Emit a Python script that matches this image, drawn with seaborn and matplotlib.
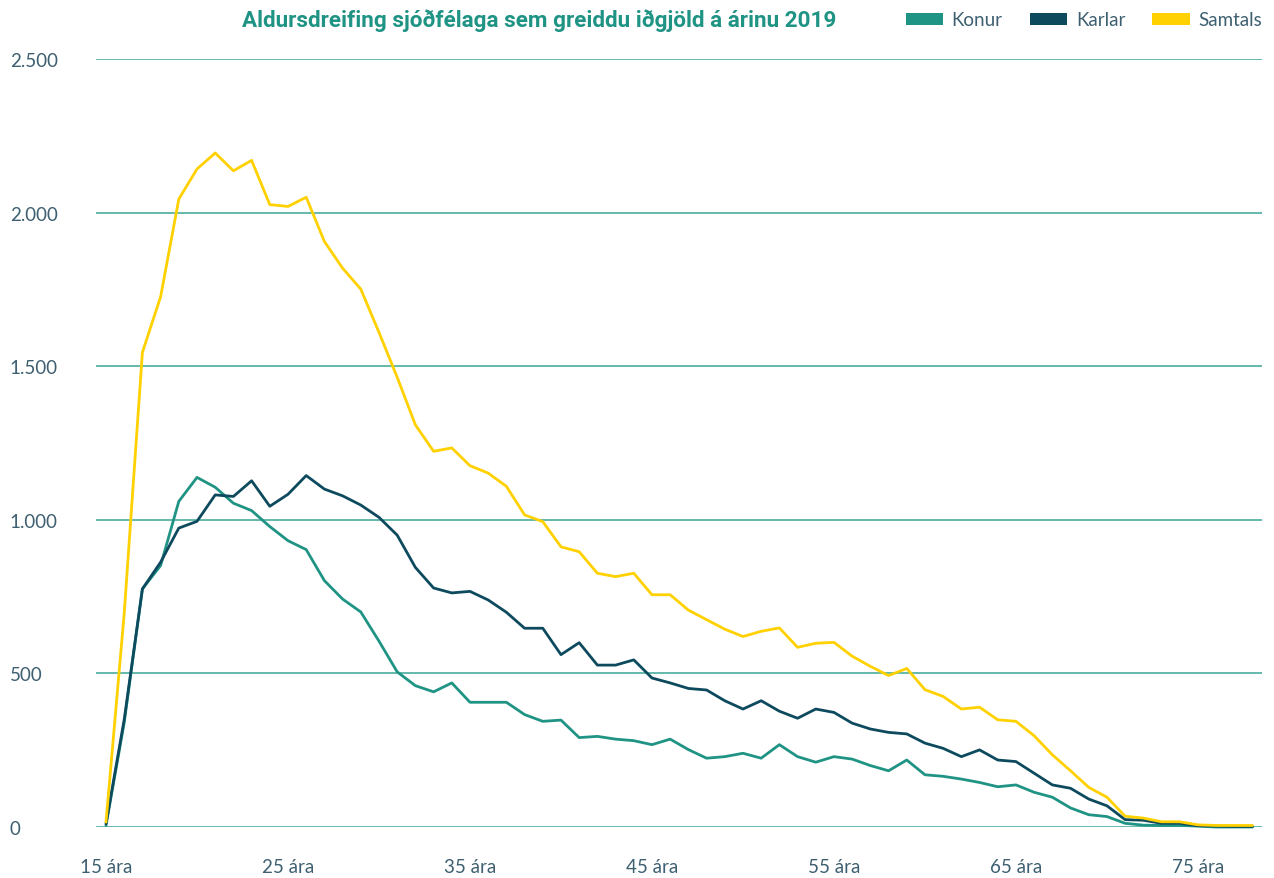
import matplotlib
matplotlib.use("Agg")
import matplotlib.pyplot as plt
import matplotlib.ticker as mticker
from matplotlib.patches import Patch
import seaborn as sns
import pandas as pd

ages = list(range(15, 79))

konur = [5, 340, 775, 851, 1060, 1138, 1106, 1054, 1030, 978,
         932, 903, 802, 742, 700, 605, 505, 460, 440, 469,
         406, 406, 406, 366, 344, 348, 291, 295, 286, 281,
         268, 286, 252, 224, 229, 240, 224, 268, 229, 211,
         229, 221, 200, 183, 218, 170, 165, 156, 145, 131,
         137, 113, 97, 62, 40, 34, 12, 6, 5, 5,
         3, 0, 0, 0]

karlar = [10, 350, 775, 862, 973, 995, 1081, 1076, 1127, 1044,
          1083, 1144, 1100, 1078, 1048, 1008, 950, 845, 778, 762,
          767, 739, 699, 647, 647, 561, 600, 527, 527, 544,
          485, 469, 451, 446, 411, 384, 411, 377, 354, 384,
          373, 338, 319, 308, 303, 273, 256, 229, 251, 218,
          213, 175, 137, 126, 91, 69, 24, 22, 12, 12,
          4, 3, 2, 2]

samtals = [16, 695, 1545, 1726, 2044, 2142, 2194, 2136, 2170, 2026,
           2020, 2050, 1906, 1819, 1751, 1610, 1464, 1309, 1223, 1234,
           1176, 1152, 1109, 1016, 994, 912, 896, 826, 815, 826,
           756, 756, 706, 675, 644, 620, 637, 648, 585, 598,
           601, 556, 523, 493, 516, 447, 425, 384, 390, 349,
           344, 297, 235, 183, 129, 97, 35, 29, 17, 17,
           7, 5, 5, 5]

series_names = ["Konur", "Karlar", "Samtals"]
colors = ["#1f9384", "#0d4a5e", "#ffd100"]
title = "Aldursdreifing sjóðfélaga sem greiddu iðgjöld á árinu 2019"
xticks = [15, 25, 35, 45, 55, 65, 75]
yticks = [0, 500, 1000, 1500, 2000, 2500]

df = pd.DataFrame({
    "age": ages * 3,
    "value": konur + karlar + samtals,
    "series": [series_names[0]] * len(ages) + [series_names[1]] * len(ages) + [series_names[2]] * len(ages),
})

sns.set_theme(style="white")
plt.rcParams["font.family"] = ["Lato", "DejaVu Sans"]

fig = plt.figure(figsize=(12.74, 8.79), dpi=100)
ax = fig.add_axes([96 / 1274, 1 - 828 / 879, (1262 - 96) / 1274, (828 - 60) / 879])

sns.lineplot(data=df, x="age", y="value", hue="series", hue_order=series_names,
             palette=colors, linewidth=2.0, ax=ax, legend=False, clip_on=False)

ax.set_xlim(14.45, 78.52)
ax.set_ylim(0, 2500)
ax.set_xticks(xticks)
ax.set_xticklabels([f"{t} ára" for t in xticks])
ax.set_yticks(yticks)
ax.yaxis.set_major_formatter(mticker.FuncFormatter(lambda v, p: f"{int(v):,}".replace(",", ".")))
ax.set_xlabel("")
ax.set_ylabel("")

for s in ax.spines.values():
    s.set_visible(False)
ax.grid(axis="y", color="#3aa597", linewidth=1.1)
ax.grid(axis="x", visible=False)
ax.set_axisbelow(True)

tick_color = "#3d5f70"
ax.tick_params(axis="y", length=0, pad=62, labelsize=13.5, labelcolor=tick_color)
ax.tick_params(axis="x", length=0, pad=22, labelsize=13.5, labelcolor=tick_color)
for lbl in ax.get_yticklabels():
    lbl.set_horizontalalignment("left")

fig.text(539 / 1274, 1 - 21 / 879, title, ha="center", va="center",
         fontsize=16.2, fontweight="bold", color="#1f9384", family=["Roboto", "DejaVu Sans"])

handles = [Patch(facecolor=c, edgecolor="none") for c in colors]
fig.legend(handles, series_names, loc="center right", bbox_to_anchor=(1262 / 1274, 1 - 21 / 879),
           ncol=3, frameon=False, fontsize=13.5, handlelength=2.0, handleheight=0.55,
           handletextpad=0.45, columnspacing=1.45, borderpad=0, borderaxespad=0,
           labelcolor=tick_color)

fig.savefig("out.png", dpi=100)
